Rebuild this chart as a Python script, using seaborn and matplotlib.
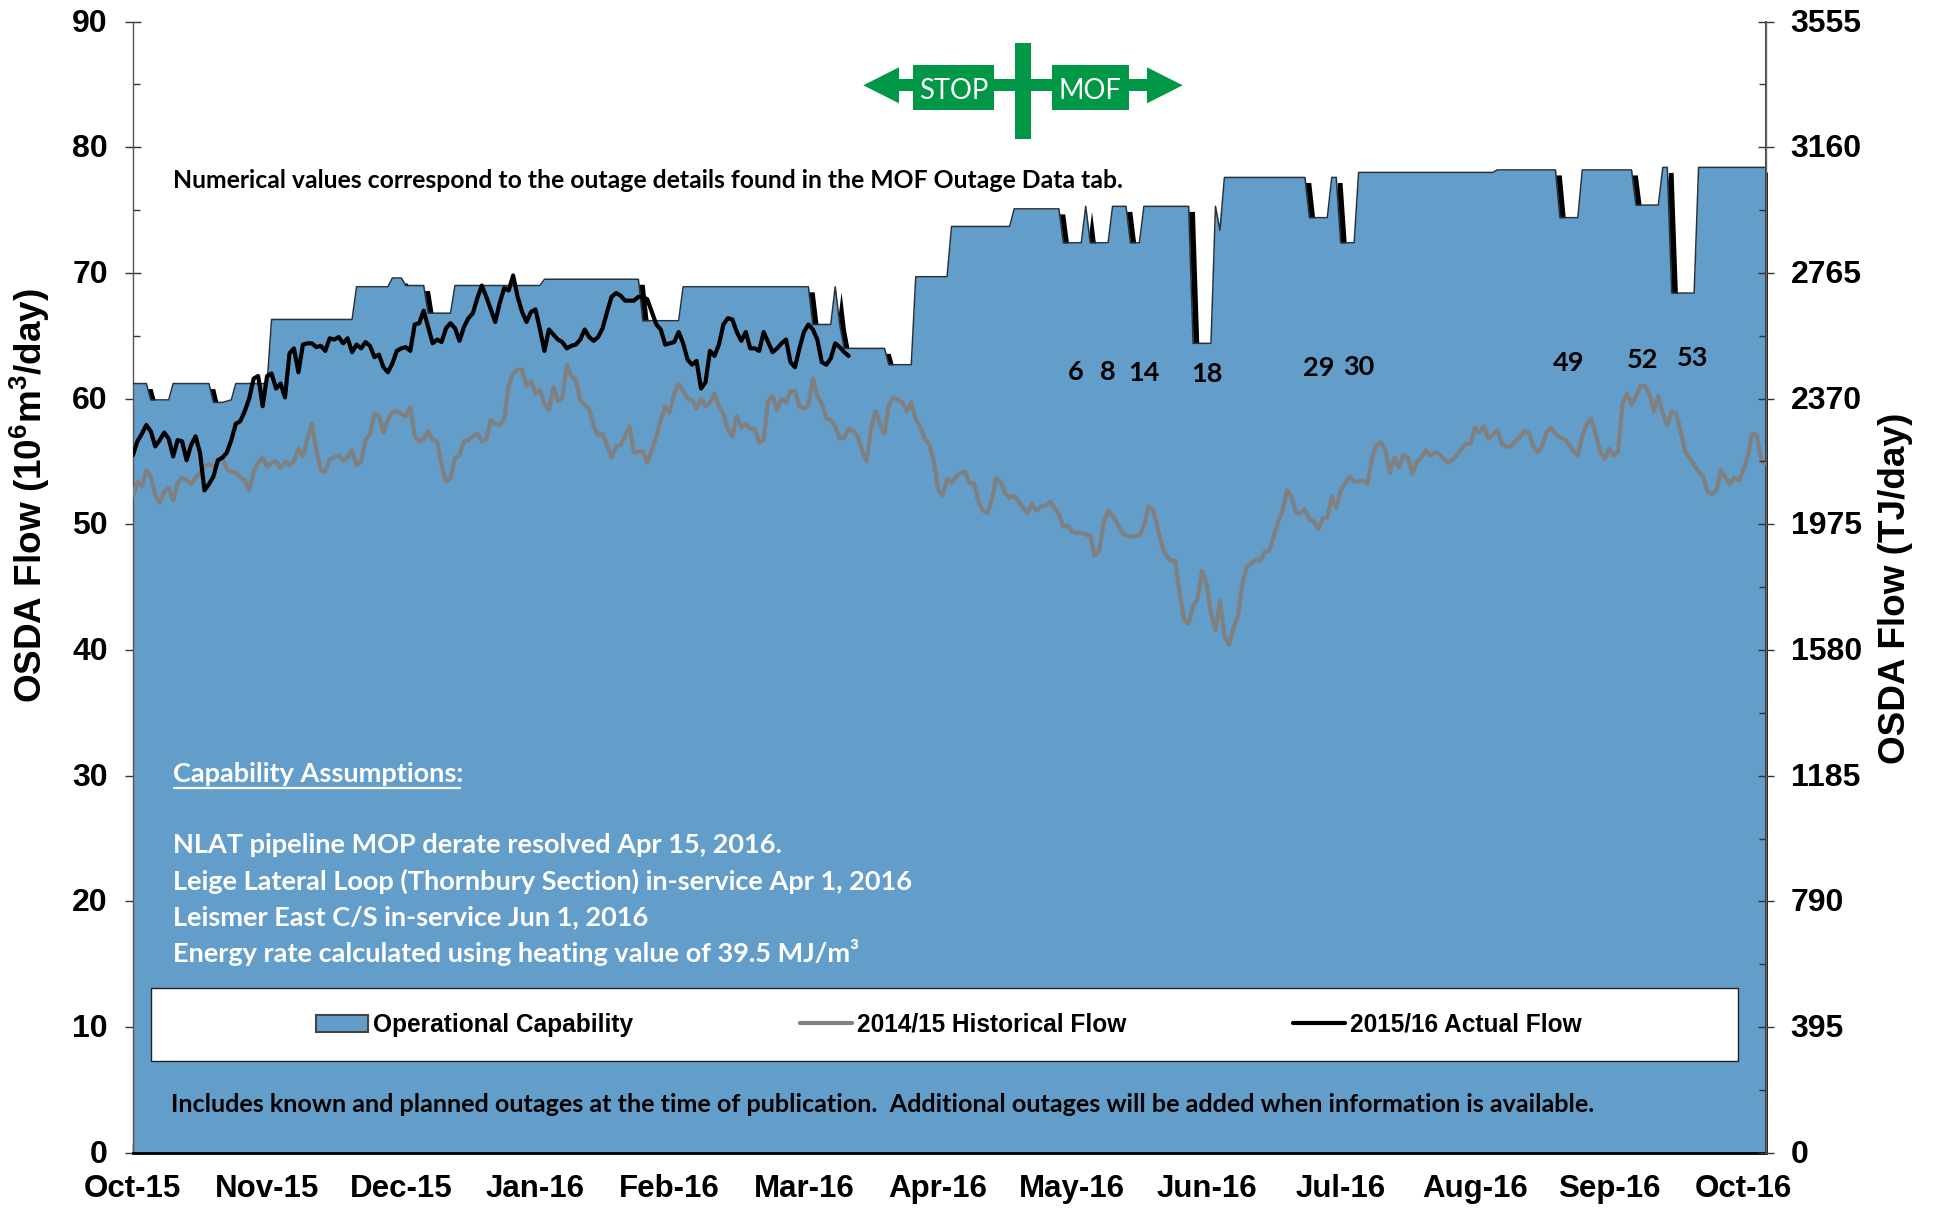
import numpy as np
import matplotlib
matplotlib.use("Agg")
import matplotlib.pyplot as plt
from matplotlib.lines import Line2D
from matplotlib.patches import Patch, Polygon, Rectangle
from matplotlib.transforms import ScaledTranslation
import seaborn as sns

# capability corners, days counted from the left edge of the chart
cap_days = [0, 3, 4, 8, 9, 17, 18, 20, 22, 23, 30, 31, 49, 50, 57, 58, 60, 61, 65, 66, 71, 72,
            91, 92, 113, 114, 122, 123, 151, 152, 156, 157, 158, 159, 168, 169, 174, 175,
            182, 183, 196, 197, 207, 208, 212, 213, 214, 218, 219, 222, 223, 225, 226,
            236, 237, 241, 242, 243, 244, 262, 263, 267, 268, 269, 270, 273, 274,
            304, 305, 318, 319, 323, 324, 335, 336, 341, 342, 343, 344, 349, 350, 365]
cap_values = [61.2, 61.2, 59.9, 59.9, 61.2, 61.2, 59.7, 59.7, 59.9, 61.2, 61.2, 66.3, 66.3, 68.9, 68.9, 69.6, 69.6, 69.0, 69.0, 66.8, 66.8, 69.0,
              69.0, 69.5, 69.5, 66.2, 66.2, 68.9, 68.9, 65.9, 65.9, 68.9, 65.9, 64.0, 64.0, 62.7, 62.7, 69.7,
              69.7, 73.7, 73.7, 75.1, 75.1, 72.4, 72.4, 75.3, 72.4, 72.4, 75.3, 75.3, 72.4, 72.4, 75.3,
              75.3, 64.4, 64.4, 75.3, 73.4, 77.6, 77.6, 74.4, 74.4, 77.6, 77.6, 72.4, 72.4, 78.0,
              78.0, 78.2, 78.2, 74.4, 74.4, 78.2, 78.2, 75.4, 75.4, 78.4, 78.4, 68.4, 68.4, 78.4, 78.4]

# 2015/16 actual flow, one value a day until the publication date
actual_flow = [55.5, 56.6, 57.2, 57.9, 57.4, 56.2, 56.7, 57.3, 56.8, 55.4, 56.7, 56.6, 55.1, 56.3, 57.0, 55.7,
               52.7, 53.2, 53.8, 55.1, 55.3, 55.7, 56.7, 58.0, 58.2, 59.0, 60.0, 61.6, 61.8, 59.4, 61.8, 62.0,
               60.8, 61.2, 60.1, 63.6, 64.0, 62.1, 64.3, 64.4, 64.4, 64.1, 64.2, 63.8, 64.8, 64.7, 64.9, 64.4,
               64.8, 63.7, 64.3, 64.0, 64.5, 64.2, 63.3, 63.5, 62.5, 62.1, 62.8, 63.8, 64.0, 64.1, 63.8, 65.9,
               66.0, 67.0, 65.7, 64.4, 64.7, 64.5, 65.6, 66.0, 65.6, 64.6, 65.7, 66.4, 66.8, 68.0, 69.0, 68.1,
               67.1, 66.1, 67.6, 68.8, 68.6, 69.8, 68.1, 66.9, 66.1, 66.9, 67.1, 65.5, 63.8, 65.5, 65.1, 64.7,
               64.5, 64.0, 64.2, 64.3, 64.7, 65.5, 64.9, 64.6, 64.9, 65.6, 66.9, 68.1, 68.4, 68.2, 67.8, 67.8,
               67.8, 68.1, 68.1, 67.9, 66.9, 65.9, 65.5, 64.3, 64.4, 64.5, 65.3, 64.4, 63.1, 62.7, 63.0, 60.8,
               61.3, 63.8, 63.4, 64.3, 65.9, 66.4, 66.3, 65.3, 64.6, 65.3, 64.0, 64.0, 63.8, 65.3, 64.5, 63.7,
               64.0, 64.4, 64.7, 62.9, 62.5, 64.0, 65.3, 65.9, 65.5, 64.7, 62.9, 62.7, 63.2, 64.4, 64.1, 63.7, 63.4]

# 2014/15 historical flow, one value a day for the whole year
historical_flow = [52.3, 53.4, 53.0, 54.3, 53.8, 52.3, 51.7, 52.6, 52.9, 51.9, 53.3, 53.7, 53.5, 53.2, 53.7, 54.1,
                   54.6, 54.8, 54.6, 54.9, 55.3, 54.4, 54.2, 54.1, 53.7, 53.5, 52.7, 54.2, 54.9, 55.3, 54.6, 54.9,
                   55.0, 54.5, 55.0, 54.7, 55.0, 56.0, 55.4, 56.8, 58.0, 55.9, 54.3, 54.2, 55.2, 55.3, 55.5, 55.1,
                   55.3, 55.9, 54.7, 55.0, 56.7, 57.2, 58.8, 58.6, 57.3, 58.3, 58.9, 59.0, 58.8, 58.6, 59.3, 57.0,
                   56.6, 56.8, 57.4, 56.7, 56.6, 54.7, 53.4, 53.7, 55.3, 55.5, 56.6, 56.7, 57.0, 57.2, 56.6, 56.8,
                   58.3, 58.0, 57.9, 58.4, 61.0, 62.0, 62.3, 62.3, 61.0, 61.4, 60.4, 60.7, 59.6, 59.1, 60.9, 59.8,
                   60.1, 62.7, 61.8, 61.5, 59.9, 59.5, 59.2, 57.8, 57.1, 57.2, 56.3, 55.3, 56.2, 56.3, 57.0, 57.8,
                   55.7, 55.8, 55.8, 54.9, 55.9, 57.0, 58.3, 59.4, 58.9, 60.4, 61.2, 60.6, 60.0, 59.9, 59.2, 60.0,
                   59.4, 59.7, 60.4, 59.4, 58.8, 57.5, 57.0, 58.6, 57.7, 58.0, 57.6, 57.6, 56.5, 56.7, 59.8, 60.2,
                   59.1, 60.0, 59.7, 60.6, 60.6, 59.4, 59.2, 59.5, 61.6, 60.2, 59.6, 58.4, 58.3, 57.8, 56.8, 56.9,
                   57.6, 57.4, 57.0, 55.9, 55.0, 57.6, 59.0, 58.0, 57.2, 59.5, 60.1, 59.9, 59.7, 59.0, 59.7, 58.3,
                   57.8, 56.8, 56.4, 55.1, 52.8, 52.3, 53.6, 53.3, 53.8, 54.1, 54.2, 53.3, 53.3, 51.8, 51.1, 50.9,
                   51.9, 53.7, 53.3, 52.5, 52.1, 52.3, 51.8, 51.3, 50.9, 51.6, 51.1, 51.4, 51.5, 51.8, 51.3, 50.8,
                   49.8, 49.9, 49.4, 49.3, 49.3, 49.2, 49.1, 47.5, 47.9, 50.1, 51.1, 50.7, 50.1, 49.4, 49.1, 49.0,
                   49.1, 49.1, 49.9, 51.4, 51.2, 49.8, 48.3, 47.5, 47.1, 47.1, 44.5, 42.4, 42.1, 43.4, 44.1, 46.3,
                   45.3, 42.9, 41.6, 43.9, 41.1, 40.4, 41.7, 42.7, 45.2, 46.6, 46.9, 47.2, 47.1, 47.8, 47.9, 49.0,
                   50.2, 51.1, 52.7, 52.2, 50.9, 50.9, 51.2, 50.4, 50.2, 49.6, 50.5, 50.5, 52.2, 51.3, 52.7, 53.3,
                   53.8, 53.4, 53.4, 53.5, 53.2, 55.3, 56.3, 56.5, 55.9, 54.1, 55.3, 54.5, 55.5, 55.3, 54.0, 55.0,
                   55.3, 55.9, 55.5, 55.7, 55.6, 55.2, 54.9, 55.1, 55.5, 56.0, 56.4, 56.4, 57.7, 57.3, 57.8, 56.8,
                   57.1, 57.5, 56.4, 56.2, 56.2, 56.6, 56.9, 57.4, 57.3, 56.3, 55.7, 56.2, 57.3, 57.7, 57.2, 56.9,
                   56.8, 56.4, 55.8, 55.5, 57.0, 58.0, 58.4, 57.2, 55.8, 55.2, 56.0, 55.5, 55.8, 59.6, 60.4, 59.5,
                   60.2, 61.0, 61.0, 60.4, 59.0, 60.2, 58.8, 57.9, 59.0, 58.8, 57.4, 55.8, 55.3, 54.7, 54.2, 53.8,
                   52.6, 52.4, 52.7, 54.3, 53.7, 53.2, 53.7, 53.5, 54.3, 55.4, 57.2, 57.1, 55.1, 54.8]

month_labels = ["Oct-15", "Nov-15", "Dec-15", "Jan-16", "Feb-16", "Mar-16", "Apr-16",
                "May-16", "Jun-16", "Jul-16", "Aug-16", "Sep-16", "Oct-16"]
flow_ticks = [0, 10, 20, 30, 40, 50, 60, 70, 80, 90]
energy_ticks = [0, 395, 790, 1185, 1580, 1975, 2370, 2765, 3160, 3555]

outage_labels = ["6", "8", "14", "18", "29", "30", "49", "52", "53"]

W, H = 1940, 1209
BLUE = "#639DC9"
GREEN = "#009846"
ARIAL = "Liberation Sans"
CALIBRI = "Lato"


def fx(px):
    return px / W


def fy(py):
    return 1 - py / H


sns.set_theme(style="ticks")
plt.rcParams["font.family"] = [ARIAL, "DejaVu Sans"]
plt.rcParams["text.color"] = "black"
plt.rcParams["xtick.labelcolor"] = "black"
plt.rcParams["ytick.labelcolor"] = "black"
plt.rcParams["mathtext.fontset"] = "custom"
plt.rcParams["mathtext.rm"] = "Liberation Sans:bold"
plt.rcParams["mathtext.default"] = "rm"

fig = plt.figure(figsize=(W / 100, H / 100), dpi=100, facecolor="white")
ax = fig.add_axes([fx(132.9), fy(1152.7), (1765.7 - 132.9) / W, (1152.7 - 21.6) / H])
ax.set_facecolor("white")

cap_x = np.array(cap_days, dtype=float)
cap_y = np.array(cap_values)

# black edge that peeks out on each falling step of the capability area
ax.fill_between(cap_x + 1.3, cap_y - 0.4, color="black", lw=0, zorder=1)
ax.vlines(cap_days[-1], 0, cap_values[-1] - 0.4, color="black", lw=2, clip_on=False, zorder=1)
ax.fill_between(cap_x, cap_y, color=BLUE, lw=0, zorder=2)
sns.lineplot(x=cap_days, y=cap_values, ax=ax, color="#26333f", lw=1.1, errorbar=None, zorder=3, legend=False)
sns.lineplot(x=np.arange(len(historical_flow)), y=historical_flow, ax=ax, color="#808080", lw=3,
             errorbar=None, zorder=4, legend=False)
sns.lineplot(x=np.arange(len(actual_flow)), y=actual_flow, ax=ax, color="black", lw=3,
             errorbar=None, zorder=5, legend=False)

ax.set_xlim(0, 365)
ax.set_ylim(0, 90)
ax.set_xticks(np.arange(len(month_labels)) * 30)
ax.set_xticklabels(month_labels)
ax.set_yticks(flow_ticks)
ax.set_yticks(np.arange(5, 90, 10), minor=True)
ax.tick_params(axis="x", direction="in", length=6.5, width=1, pad=15, labelsize=22.5, color="black")
ax.tick_params(axis="y", which="major", direction="inout", length=12, width=1, pad=12, labelsize=23, color="#333333")
ax.tick_params(axis="y", which="minor", direction="in", length=5, width=1, color="#333333")
for lab in ax.get_xticklabels() + ax.get_yticklabels():
    lab.set_fontweight("bold")
ax.spines["top"].set_visible(False)
ax.spines["left"].set_color("#555555")
ax.spines["left"].set_linewidth(1)
ax.spines["bottom"].set_color("black")
ax.spines["bottom"].set_linewidth(2)
ax.spines["bottom"].set_zorder(6)

ax2 = ax.twinx()
ax2.set_ylim(0, 3555)
ax2.set_yticks(energy_ticks)
ax2.set_yticks(np.arange(197.5, 3555, 395), minor=True)
ax2.tick_params(axis="y", which="major", direction="inout", length=12, width=1, pad=12, labelsize=23, color="#333333")
ax2.tick_params(axis="y", which="minor", direction="in", length=5, width=1, color="#333333")
for lab in ax2.get_yticklabels():
    lab.set_fontweight("bold")
ax2.spines["top"].set_visible(False)
ax2.spines["left"].set_visible(False)
ax2.spines["bottom"].set_visible(False)
ax2.spines["right"].set_color("#666666")
ax2.spines["right"].set_linewidth(1)

# tick labels sit a touch high in the reference
nudge = ScaledTranslation(0, 1.5 / 100, fig.dpi_scale_trans)
for lab in ax.get_yticklabels():
    lab.set_transform(lab.get_transform() + nudge)
for lab in ax2.get_yticklabels():
    lab.set_transform(lab.get_transform() + nudge)

fig.text(fx(30), fy(496), "OSDA Flow (10$^{6}$m$^{3}$/day)", rotation=90, ha="center", va="center",
         fontsize=26.6, fontweight="bold", family=ARIAL)
fig.text(fx(1896), fy(588), "OSDA Flow (TJ/day)", rotation=90, ha="center", va="center",
         fontsize=26.6, fontweight="bold", family=ARIAL)

# outage numbers
outage_px = [(1076, 372), (1108, 372), (1144, 373), (1207, 374), (1319, 368),
             (1359, 367), (1569, 363), (1643, 360), (1693, 358)]
for lab, (px, py) in zip(outage_labels, outage_px):
    ax2.text(fx(px), fy(py), lab, transform=fig.transFigure, ha="center", va="center",
             fontsize=19.5, fontweight="bold", family=CALIBRI, color="black")

ax2.text(fx(173), fy(180), "Numerical values correspond to the outage details found in the MOF Outage Data tab.",
         transform=fig.transFigure, va="center", fontsize=17.85, fontweight="bold", family=CALIBRI, color="black")

note_lines = [("Capability Assumptions:", 774), ("NLAT pipeline MOP derate resolved Apr 15, 2016.", 845),
              ("Leige Lateral Loop (Thornbury Section) in-service Apr 1, 2016", 881),
              ("Leismer East C/S in-service Jun 1, 2016", 917),
              ("Energy rate calculated using heating value of 39.5 MJ/m³", 953)]
for txt, py in note_lines:
    ax2.text(fx(173), fy(py), txt, transform=fig.transFigure, va="center", fontsize=19.5, fontweight="bold",
             family=CALIBRI, color="white")
ax2.add_line(Line2D([fx(174), fx(460)], [fy(788), fy(788)], transform=fig.transFigure, color="white", lw=1.6))

ax2.text(fx(171), fy(1104), "Includes known and planned outages at the time of publication.  Additional outages will be added when information is available.",
         transform=fig.transFigure, va="center", fontsize=18.05, fontweight="bold", family=CALIBRI, color="black")

# legend box
ax2.add_patch(Rectangle((fx(150.5), fy(1061)), (1738 - 150.5) / W, (1061 - 988) / H, transform=fig.transFigure,
                        fc="white", ec="#222222", lw=1, zorder=7))
handles = [Patch(fc=BLUE, ec="#444444", lw=1.5),
           Line2D([], [], color="#808080", lw=3),
           Line2D([], [], color="black", lw=3)]
leg = ax2.legend(handles, ["Operational Capability", "2014/15 Historical Flow", "2015/16 Actual Flow"],
                 ncol=3, loc="center", bbox_to_anchor=(fx(949), fy(1025)), bbox_transform=fig.transFigure,
                 frameon=False, handlelength=2.12, handletextpad=0.2, columnspacing=6.8,
                 borderpad=0, borderaxespad=0, prop={"family": ARIAL, "weight": "bold", "size": 17.65})
leg.set_zorder(8)

# STOP / MOF sign above the plot
sign = [Rectangle((fx(1015), fy(139)), 16 / W, 96 / H),
        Rectangle((fx(899), fy(91.3)), 248 / W, 12 / H),
        Rectangle((fx(913.3), fy(110)), 80.7 / W, 45 / H),
        Rectangle((fx(1051.7), fy(110)), 77 / W, 45 / H),
        Polygon([(fx(863.3), fy(85.3)), (fx(899), fy(67.3)), (fx(899), fy(103.3))]),
        Polygon([(fx(1182.7), fy(85.3)), (fx(1147), fy(67.3)), (fx(1147), fy(103.3))])]
for part in sign:
    part.set(transform=fig.transFigure, fc=GREEN, ec="none", clip_on=False, zorder=7)
    ax2.add_patch(part)
ax2.text(fx(953.5), fy(91), "STOP", transform=fig.transFigure, ha="center", va="center", color="white",
         fontsize=19.8, family=CALIBRI, zorder=8)
ax2.text(fx(1090), fy(91), "MOF", transform=fig.transFigure, ha="center", va="center", color="white",
         fontsize=19.8, family=CALIBRI, zorder=8)

fig.savefig("out.png", dpi=100)
